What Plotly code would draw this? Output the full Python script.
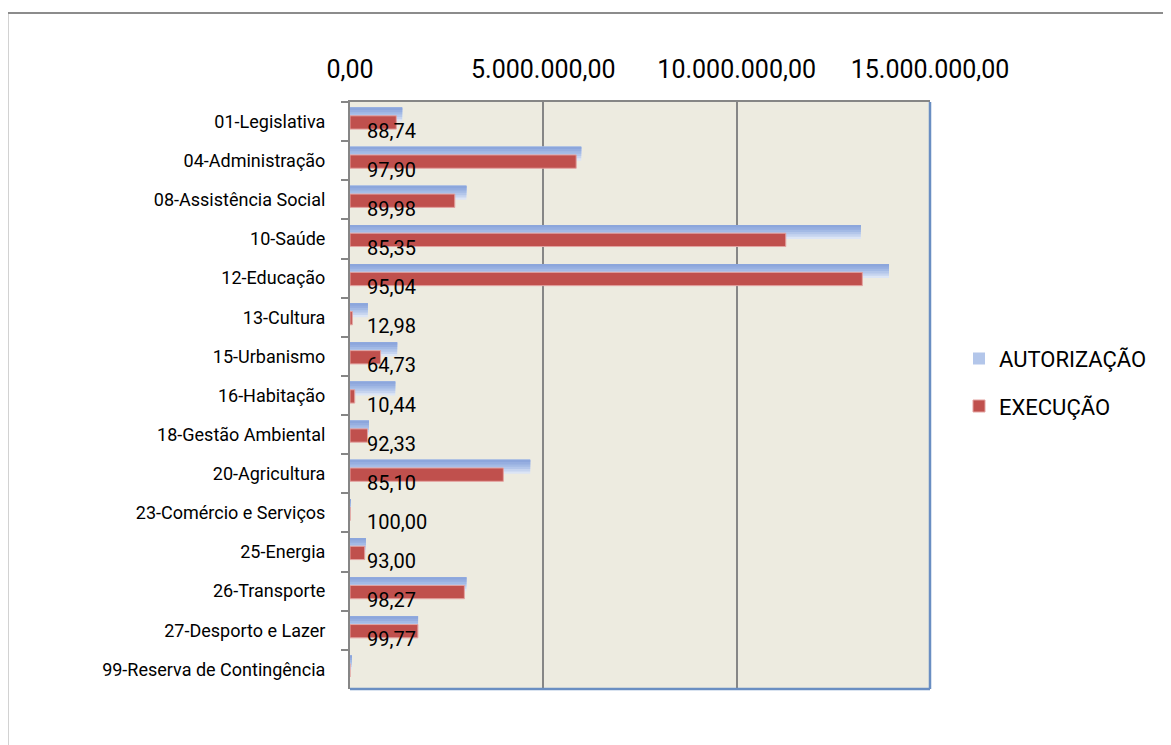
import plotly.graph_objects as go

categories = ["01-Legislativa", "04-Administração", "08-Assistência Social", "10-Saúde",
              "12-Educação", "13-Cultura", "15-Urbanismo", "16-Habitação",
              "18-Gestão Ambiental", "20-Agricultura", "23-Comércio e Serviços",
              "25-Energia", "26-Transporte", "27-Desporto e Lazer",
              "99-Reserva de Contingência"]
autorizacao = [1350000, 5980000, 3010000, 13210000, 13940000, 460000, 1220000, 1170000,
               490000, 4660000, 4000, 410000, 3010000, 1760000, 50000]
execucao = [1198000, 5850000, 2710000, 11270000, 13250000, 60000, 790000, 122000,
            452000, 3966000, 4000, 381000, 2958000, 1756000, 0]
percent_labels = ["88,74", "97,90", "89,98", "85,35", "95,04", "12,98", "64,73", "10,44",
                  "92,33", "85,10", "100,00", "93,00", "98,27", "99,77", ""]
x_tickvals = [0, 5000000, 10000000, 15000000]
x_ticktext = ["0,00", "5.000.000,00", "10.000.000,00", "15.000.000,00"]

FONT = "Roboto"
GRAY = "#868686"
BLUE_LINE = "#6A8EC2"

fig = go.Figure()

# AUTORIZAÇÃO: vertical gradient approximated with stacked overlay strips
grad = ["#DCE5F5", "#C6D4EF", "#B3C6EA", "#A3BAE5", "#96AEE0", "#8CA6DC"]
N = len(grad)
aut_off = -0.358
aut_w = 0.358
LEGEND_STRIP = 2
for k, col in enumerate(grad):
    fig.add_trace(go.Bar(
        y=categories, x=autorizacao, orientation="h",
        name="AUTORIZAÇÃO", legendgroup="a", showlegend=(k == LEGEND_STRIP),
        marker=dict(color=col, line=dict(width=0)),
        offset=aut_off, width=aut_w * (N - k) / N,
    ))

fig.add_trace(go.Bar(
    y=categories, x=execucao, orientation="h",
    name="EXECUÇÃO", legendgroup="b",
    marker=dict(color="#C0504D", line=dict(color="#E3A3A1", width=1)),
    offset=-0.147, width=0.34,
))

annotations = []
for cat, lab in zip(categories, percent_labels):
    if lab:
        annotations.append(dict(
            x=0, y=cat, xref="x", yref="y", text=lab, showarrow=False,
            xanchor="left", yanchor="middle", xshift=15, yshift=-9,
            font=dict(family=FONT, size=20, color="black"),
        ))

shapes = [
    # outer chart border (gray): left and top edges visible in the frame
    dict(type="line", xref="paper", yref="paper", x0=-0.5907, x1=-0.5907, y0=-0.2, y1=1.1515,
         line=dict(color="#8C8C8C", width=2), layer="below"),
    dict(type="line", xref="paper", yref="paper", x0=-0.5907, x1=1.6, y0=1.1515, y1=1.1515,
         line=dict(color="#8C8C8C", width=2), layer="below"),
    # bottom and right plot-area edges (blue)
    dict(type="line", xref="paper", yref="paper", x0=0, x1=1, y0=0, y1=0,
         line=dict(color=BLUE_LINE, width=2.5)),
    dict(type="line", xref="paper", yref="paper", x0=1, x1=1, y0=0, y1=1,
         line=dict(color=BLUE_LINE, width=2.5)),
]

fig.update_layout(
    width=1163, height=737,
    margin=dict(l=342, r=241, t=94, b=56, autoexpand=False),
    paper_bgcolor="white",
    plot_bgcolor="#EDEBE0",
    barmode="overlay",
    font=dict(family=FONT, color="black"),
    showlegend=True,
    legend=dict(
        x=1.050, y=0.522, xanchor="left", yanchor="middle",
        font=dict(family=FONT, size=22, color="black"),
        traceorder="grouped", tracegroupgap=16,
        bgcolor="rgba(0,0,0,0)", itemwidth=30,
    ),
    annotations=annotations,
    shapes=shapes,
    xaxis=dict(
        side="top", range=[0, 15000000],
        tickvals=x_tickvals, ticktext=x_ticktext,
        tickfont=dict(family=FONT, size=25, color="black"),
        showgrid=True, gridcolor=GRAY, gridwidth=2,
        zeroline=False, showline=True, linecolor=GRAY, linewidth=2,
        ticks="", ticklabelstandoff=12, automargin=False,
    ),
    yaxis=dict(
        type="category", range=[14.5, -0.5], autorange=False,
        tickfont=dict(family=FONT, size=18, color="black"),
        showgrid=False, zeroline=False,
        showline=True, linecolor=GRAY, linewidth=2,
        ticks="outside", tickson="boundaries", ticklen=7, tickcolor=GRAY, tickwidth=2,
        ticklabelstandoff=19, automargin=False,
    ),
)

fig.write_html("out.html")
